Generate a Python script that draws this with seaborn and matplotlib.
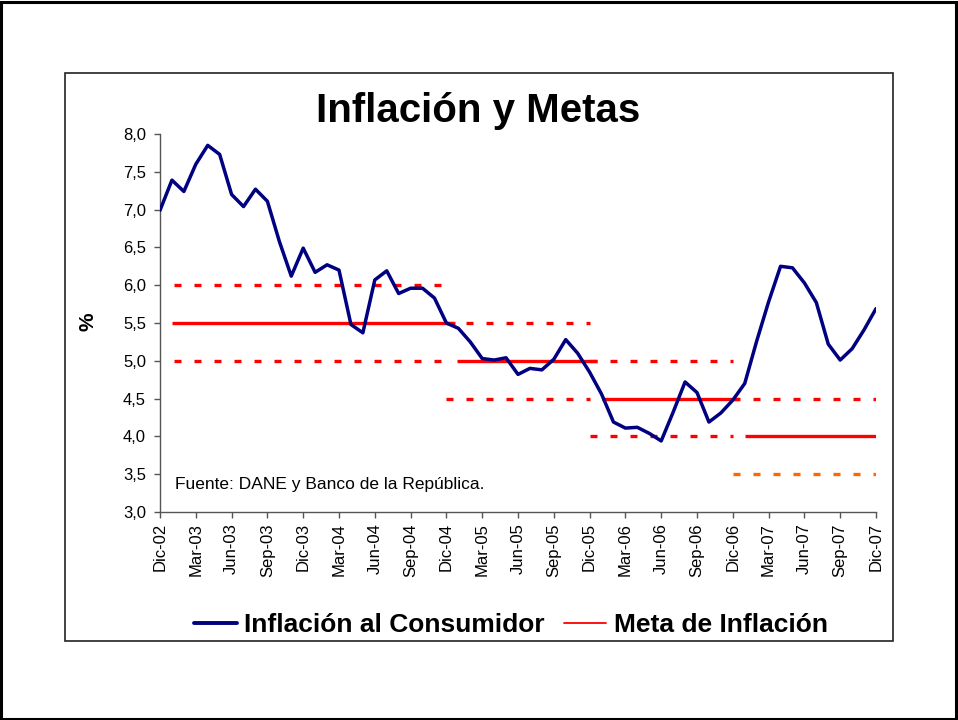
import matplotlib
matplotlib.use("Agg")
import matplotlib.pyplot as plt
from matplotlib.lines import Line2D
from matplotlib.patches import Rectangle
import seaborn as sns
import pandas as pd

# ---------------- data ----------------
# monthly consumer inflation, Dic-02 .. Dic-07 (month index 0..60)
inflacion = [6.99, 7.39, 7.24, 7.60, 7.85, 7.73, 7.20, 7.04, 7.27, 7.11, 6.58, 6.12,
             6.49, 6.17, 6.27, 6.20, 5.48, 5.37, 6.07, 6.19, 5.89, 5.96, 5.96, 5.83,
             5.50, 5.43, 5.25, 5.03, 5.01, 5.04, 4.82, 4.90, 4.88, 5.02, 5.28, 5.10,
             4.85, 4.56, 4.19, 4.11, 4.12, 4.04, 3.94, 4.32, 4.72, 4.58, 4.19, 4.31,
             4.48, 4.70, 5.26, 5.78, 6.25, 6.23, 6.03, 5.77, 5.22, 5.01, 5.16, 5.41,
             5.69]
meses = list(range(len(inflacion)))

tick_labels = ["Dic-02", "Mar-03", "Jun-03", "Sep-03", "Dic-03", "Mar-04", "Jun-04",
               "Sep-04", "Dic-04", "Mar-05", "Jun-05", "Sep-05", "Dic-05", "Mar-06",
               "Jun-06", "Sep-06", "Dic-06", "Mar-07", "Jun-07", "Sep-07", "Dic-07"]

# inflation targets by period (month index start/end)
meta_periodo = ["2003-04", "2005", "2006", "2007"]
meta_centro = [5.5, 5.0, 4.5, 4.0]
centro_ini = [1.0, 24.9, 37.0, 49.0]
centro_fin = [24.7, 36.6, 48.5, 60.0]
meta_sup = [6.0, 5.5, 5.0, 4.5]
meta_inf = [5.0, 4.5, 4.0, 3.5]
rango_ini = [1.2, 24.0, 36.0, 48.0]
rango_fin = [23.6, 36.0, 48.0, 60.0]
color_inf = ["#FF0000", "#FF0000", "#FF0000", "#FF6600"]

# ---------------- plot ----------------
sns.set_theme(style="white")
plt.rcParams["font.family"] = ["Liberation Sans", "DejaVu Sans"]
plt.rcParams["text.color"] = "black"
plt.rcParams["axes.labelcolor"] = "black"
plt.rcParams["xtick.color"] = "black"
plt.rcParams["ytick.color"] = "black"

fig = plt.figure(figsize=(9.58, 7.2), dpi=100)
ax = fig.add_axes([160 / 958, 1 - 512 / 720, 716 / 958, 378 / 720])

# frames
fig.patches.append(Rectangle((0.001, 0.0015), 0.997, 0.996, transform=fig.transFigure,
                             fill=False, edgecolor="black", lw=2.2, zorder=0))
fig.patches.append(Rectangle((65 / 958, 1 - 641 / 720), (893 - 65) / 958, (641 - 73) / 720,
                             transform=fig.transFigure, fill=False, edgecolor="#222222",
                             lw=1.2, zorder=0))

dash = (0, (2.1, 3.9))
lw_meta = 2.4
for i in range(len(meta_periodo)):
    ax.hlines(meta_sup[i], rango_ini[i], rango_fin[i], colors="#FF0000",
              linestyles=[dash], lw=lw_meta, zorder=2)
    ax.hlines(meta_inf[i], rango_ini[i], rango_fin[i], colors=color_inf[i],
              linestyles=[dash], lw=lw_meta, zorder=2)
    ax.hlines(meta_centro[i], centro_ini[i], centro_fin[i], colors="#FF0000",
              linestyles="solid", lw=lw_meta, zorder=2)

df = pd.DataFrame({"mes": meses, "inflacion": inflacion})
sns.lineplot(data=df, x="mes", y="inflacion", ax=ax, color="#000080", lw=2.5, zorder=3)

ax.set_xlim(0, 60)
ax.set_ylim(3, 8)
ax.set_xticks(list(range(0, 61, 3)))
ax.set_xticklabels(tick_labels, rotation=90, fontsize=12)
yt = [3 + 0.5 * k for k in range(11)]
ax.set_yticks(yt)
ax.set_yticklabels([f"{v:.1f}".replace(".", ",") for v in yt], fontsize=12)
ax.set_xlabel("")
ax.set_ylabel("")
ax.tick_params(axis="both", direction="out", length=4, width=1, color="#555555",
               labelcolor="black", bottom=True, left=True, pad=4)
ax.tick_params(axis="y", pad=6)
for s in ["top", "right"]:
    ax.spines[s].set_visible(False)
for s in ["left", "bottom"]:
    ax.spines[s].set_color("#555555")
    ax.spines[s].set_linewidth(1)
ax.set_facecolor("none")

fig.text(88 / 958, 1 - 322 / 720, "%", rotation=90, ha="center", va="center",
         fontsize=15, fontweight="bold", color="black")
fig.text(478 / 958, 1 - 122 / 720, "Inflación y Metas", ha="center", va="baseline",
         fontsize=29, fontweight="bold", color="black")
ax.text(175 / 958, 1 - 489 / 720, "Fuente: DANE y Banco de la República.",
        transform=fig.transFigure, ha="left", va="baseline", fontsize=12.5, color="black")

handles = [Line2D([], [], color="#000080", lw=2.8),
           Line2D([], [], color="#FF0000", lw=1.3)]
leg = fig.legend(handles, ["Inflación al Consumidor", "Meta de Inflación"], loc="center",
                 bbox_to_anchor=(511 / 958, 1 - 625 / 720), ncol=2, frameon=False,
                 prop={"size": 19, "weight": "bold"}, handlelength=1.6,
                 handletextpad=0.3, columnspacing=0.7)
for t in leg.get_texts():
    t.set_color("black")

fig.savefig("out.png", dpi=100)
